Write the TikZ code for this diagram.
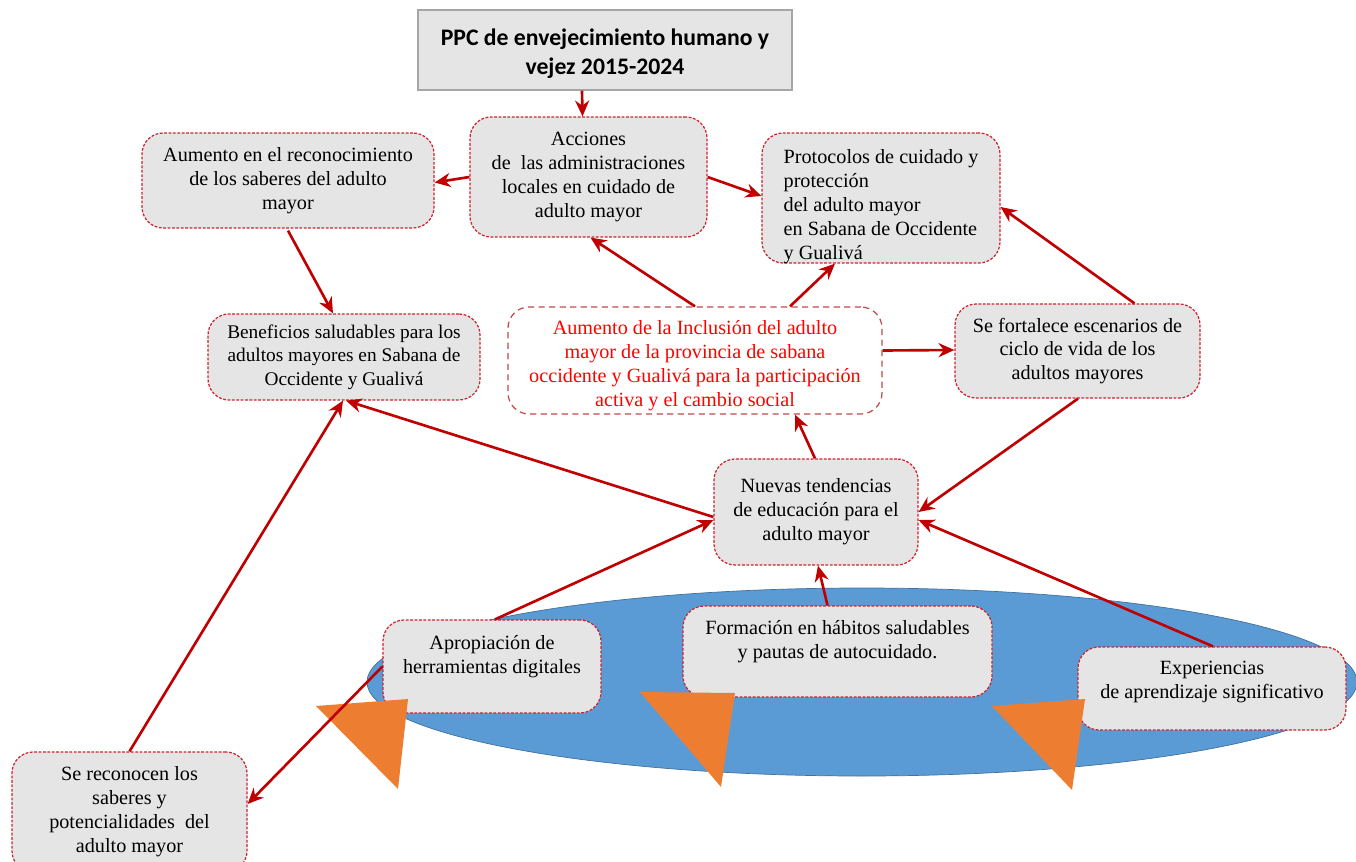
\documentclass[tikz,border=0pt]{standalone}
\usepackage{fontspec}
\setmainfont{Liberation Serif}
\newfontfamily\titlefont{Carlito}
\usepackage{xcolor}
\usetikzlibrary{arrows.meta,calc,shapes.geometric}
\definecolor{arrowred}{RGB}{192,0,0}
\definecolor{boxred}{RGB}{205,35,45}
\definecolor{incred}{RGB}{190,75,72}
\definecolor{ellblue}{RGB}{91,155,213}
\definecolor{ellline}{RGB}{65,113,156}
\definecolor{triorange}{RGB}{237,125,49}
\tikzset{
	box/.style={draw=boxred, fill=gray!20, rounded corners=12pt, align=center,
		inner sep=3pt, line width=0.7pt, dash pattern=on 1.6pt off 0.9pt,
		font=\fontsize{11.5}{13.6}\selectfont},
	arrow/.style={-{Stealth[length=9pt,width=8pt]}, line width=1.5pt, arrowred},
	tri/.style={fill=triorange}
}
% text block lowered inside a box of fixed size
\newcommand{\lowtext}[3]{\smash{\raisebox{#1}{\begin{tabular}{@{}#2@{}}#3\end{tabular}}}}
\begin{document}
\begin{tikzpicture}[x=0.02cm,y=-0.02cm]
	\useasboundingbox (0,0) rectangle (1356,862);

	%% -- Ellipse behind the bottom row
	\filldraw[fill=ellblue, draw=ellline, line width=0.4pt] (862,682) ellipse [x radius=495, y radius=94];

	%% -- Title box
	\node[draw=gray!70, fill=gray!20, line width=0.8pt, align=center,
	minimum width=374*0.02cm, minimum height=80*0.02cm,
	font=\titlefont\bfseries\fontsize{13.5}{16.5}\selectfont] (title) at (605,50)
	{\mbox{}\\[-3pt]PPC de envejecimiento humano y\\vejez 2015-2024};

	%% -- Upper row
	\node[box, minimum width=237*0.02cm, minimum height=120*0.02cm] (acc) at (588.5,177)
	{Acciones\\de\ \ las administraciones\\locales en cuidado de\\adulto mayor};

	\node[box, minimum width=292*0.02cm, minimum height=95*0.02cm] (recon) at (288,180.5)
	{Aumento en el reconocimiento\\de los saberes del adulto\\mayor};

	\node[box, inner xsep=0pt, minimum width=238*0.02cm, minimum height=130*0.02cm] (prot) at (881,198)
	{\lowtext{-8pt}{l}{Protocolos de cuidado y\\protección\\del adulto mayor\\en Sabana de Occidente\\y Gualivá}};

	%% -- Middle row
	\node[box, minimum width=272*0.02cm, minimum height=86*0.02cm,
	font=\fontsize{11}{13.4}\selectfont] (benef) at (344,357)
	{Beneficios saludables para los\\adultos mayores en Sabana de\\Occidente y Gualivá};

	\node[box, fill=white, draw=incred, dash pattern=on 3.5pt off 2.5pt, text=red,
	minimum width=374*0.02cm, minimum height=107*0.02cm] (inc) at (695,360.5)
	{\lowtext{-6pt}{c}{Aumento de la Inclusión del adulto\\mayor de la provincia de sabana\\occidente y Gualivá para la participación\\activa y el cambio social}};

	\node[box, minimum width=245*0.02cm, minimum height=94*0.02cm] (fort) at (1077.5,351)
	{Se fortalece escenarios de\\ciclo de vida de los\\adultos mayores};

	\node[box, minimum width=204*0.02cm, minimum height=106*0.02cm] (nuev) at (816,512)
	{Nuevas tendencias\\de educación para el\\adulto mayor};

	%% -- Bottom row (on the ellipse)
	\node[box, minimum width=218*0.02cm, minimum height=93*0.02cm] (apro) at (492,666.5)
	{Apropiación de\\herramientas digitales\\\mbox{}};

	\node[box, minimum width=309*0.02cm, minimum height=91*0.02cm] (form) at (837.5,651.5)
	{Formación en hábitos saludables\\y pautas de autocuidado.\\\mbox{}};

	\node[box, minimum width=268*0.02cm, minimum height=83*0.02cm] (exper) at (1212,688.5)
	{Experiencias\\de aprendizaje significativo\\[-4pt]\mbox{}};

	\node[box, minimum width=235*0.02cm, minimum height=120*0.02cm] (recon2) at (129.5,812)
	{Se reconocen los\\saberes y\\potencialidades\ \ del\\adulto mayor};

	%% -- Orange triangles
	\fill[tri] (316,706) -- (408,699) -- (398,789) -- cycle;
	\fill[tri] (640,692) -- (735,693) -- (721,787) -- cycle;
	\fill[tri] (992,706) -- (1085,699) -- (1072,790) -- cycle;

	%% -- Arrows
	\draw[arrow] ($(title.south)+(-23,0)$) -- ($(acc.north)+(-6,0)$);
	\draw[arrow] (acc.west) -- ($(recon.east)+(0,2)$);
	\draw[arrow] (acc.east) -- ($(prot.west)+(0,-2)$);
	\draw[arrow] ($(recon.south)+(0,2)$) -- ($(benef.north)+(-11,0)$);
	\draw[arrow] (inc.north) -- ($(acc.south)+(2,0)$);
	\draw[arrow] ($(inc.north)+(95,0)$) -- ($(prot.south)+(-46,0)$);
	\draw[arrow] ($(inc.east)+(0,-10)$) -- ($(fort.west)+(0,-1)$);
	\draw[arrow] ($(fort.north)+(57,0)$) -- ($(prot.east)+(0,9)$);
	\draw[arrow] ($(fort.south)+(0.5,0)$) -- (nuev.east);
	\draw[arrow] ($(nuev.north)+(-1,0)$) -- ($(inc.south)+(100,0)$);
	\draw[arrow] ($(nuev.west)+(0,5)$) -- ($(benef.south)+(2,0)$);
	\draw[arrow] ($(apro.north)+(3,0)$) -- ($(nuev.west)+(0,8)$);
	\draw[arrow] ($(form.north)+(-10,0)$) -- ($(nuev.south)+(2,0)$);
	\draw[arrow] ($(exper.north)+(1,0)$) -- ($(nuev.east)+(0,8)$);
	\draw[arrow] ($(recon2.north)+(0,0)$) -- ($(benef.south)+(-1,0)$);
	\draw[arrow] (apro.west) -- ($(recon2.east)+(0,-8)$);

\end{tikzpicture}
\end{document}
